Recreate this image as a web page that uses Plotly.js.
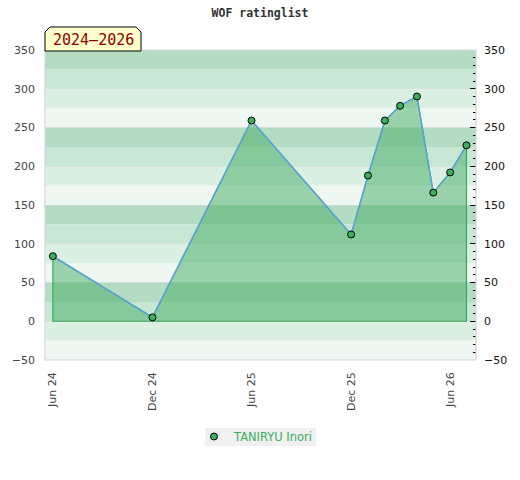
<!DOCTYPE html>
<html>
<head>
<meta charset="utf-8">
<script src="https://cdn.plot.ly/plotly-3.0.1.min.js"></script>
<style>html,body{margin:0;padding:0;background:#fff;}#chart{width:520px;height:480px;}</style>
</head>
<body>
<div id="chart"></div>
<script>
// Data
var dates = ['2024-06-01','2024-12-01','2025-06-01','2025-12-01','2026-01-01','2026-02-01','2026-03-01','2026-04-01','2026-05-01','2026-06-01','2026-07-01'];
var ratings = [84, 5, 259, 112, 188, 259, 278, 290, 166, 192, 227];
var seriesName = 'TANIRYU Inori';
var chartTitle = 'WOF ratinglist';
var periodLabel = '2024\u20132026';
var tickVals = ['2024-06-01','2024-12-01','2025-06-01','2025-12-01','2026-06-01'];
var tickText = ['Jun 24','Dec 24','Jun 25','Dec 25','Jun 26'];

var W = 520, H = 480;
var M = {l: 45, r: 44, t: 50, b: 120};
var yRange = [-50, 350];
var xRange = ['2024-05-17 12:00', '2026-07-18 12:00'];

function px(x) { return (x - M.l) / (W - M.l - M.r); }
function py(y) { return (H - M.b - y) / (H - M.t - M.b); }

// background bands every 25 units, 4-step cycle
var bandColors = ['#b3dcc3', '#c7e6d3', '#dcefe3', '#eff7f2'];
var shapes = [];
var idx = 0;
for (var v = yRange[1]; v > yRange[0]; v -= 25) {
  shapes.push({type: 'rect', xref: 'paper', yref: 'y', x0: 0, x1: 1, y0: v - 25, y1: v,
    fillcolor: bandColors[idx % 4], line: {width: 0}, layer: 'below'});
  idx++;
}
// plot border
shapes.push({type: 'rect', xref: 'paper', yref: 'paper', x0: 0, x1: 1, y0: 0, y1: 1,
  line: {color: '#d6d6d6', width: 1.2}, layer: 'above'});
// period label box with clipped top corners
var bx0 = 45, bx1 = 141, by0 = 27, by1 = 51, c = 5;
var path = 'M ' + px(bx0) + ' ' + py(by1) +
  ' L ' + px(bx0) + ' ' + py(by0 + c) +
  ' L ' + px(bx0 + c) + ' ' + py(by0) +
  ' L ' + px(bx1 - c) + ' ' + py(by0) +
  ' L ' + px(bx1) + ' ' + py(by0 + c) +
  ' L ' + px(bx1) + ' ' + py(by1) + ' Z';
shapes.push({type: 'path', xref: 'paper', yref: 'paper', path: path,
  fillcolor: '#ffffcc', line: {color: '#000000', width: 1}, layer: 'above'});
// legend background
shapes.push({type: 'rect', xref: 'paper', yref: 'paper', x0: px(205), x1: px(316), y0: py(446), y1: py(428),
  fillcolor: '#f0f0f0', line: {width: 0}, layer: 'above'});

// polygon for area fill (data + baseline)
var polyX = dates.concat([dates[dates.length - 1], dates[0], dates[0]]);
var polyY = ratings.concat([0, 0, ratings[0]]);

var traces = [
  {x: polyX, y: polyY, type: 'scatter', mode: 'lines', fill: 'toself',
   fillcolor: 'rgba(72,175,105,0.52)', line: {color: '#3aa85a', width: 1.2},
   hoverinfo: 'skip', showlegend: false},
  {x: dates, y: ratings, type: 'scatter', mode: 'lines',
   line: {color: '#5aa2dc', width: 1.4}, showlegend: false},
  {x: dates, y: ratings, type: 'scatter', mode: 'markers', name: seriesName,
   marker: {color: '#3cae5c', size: 7, line: {color: '#000000', width: 1}}},
  {x: dates, y: ratings, type: 'scatter', mode: 'markers', yaxis: 'y2',
   marker: {opacity: 0}, showlegend: false, hoverinfo: 'skip'}
];

var tickFont = {family: 'DejaVu Sans', size: 11, color: '#444'};

var layout = {
  width: W, height: H,
  margin: M,
  paper_bgcolor: '#ffffff',
  plot_bgcolor: '#ffffff',
  title: {text: chartTitle, x: 0.5, xanchor: 'center', y: 1 - 13 / H, yanchor: 'middle',
    font: {family: 'DejaVu Sans Mono', size: 11.5, color: '#333', weight: 'bold'}},
  xaxis: {type: 'date', range: xRange, tickvals: tickVals, ticktext: tickText,
    tickangle: -90, tickfont: tickFont, showgrid: false, zeroline: false,
    showline: false, ticks: '', fixedrange: true, ticklabelstandoff: 9},
  yaxis: {range: yRange, dtick: 50, tick0: 0, tickfont: tickFont,
    showgrid: true, gridcolor: 'rgba(215,215,215,0.6)', gridwidth: 1,
    zeroline: false, showline: false, ticks: '', ticklen: 0, ticklabelstandoff: 9},
  yaxis2: {range: yRange, dtick: 50, tick0: 0, overlaying: 'y', side: 'right',
    tickfont: {family: 'DejaVu Sans', size: 11, color: '#111'},
    showgrid: false, zeroline: false, showline: false,
    ticks: 'inside', ticklen: 6, tickcolor: '#000', tickwidth: 1, ticklabelstandoff: 7,
    minor: {dtick: 10, tick0: 0, ticks: 'inside', ticklen: 3, tickcolor: '#000', tickwidth: 1, showgrid: false}},
  showlegend: true,
  legend: {orientation: 'h', x: px(194), xanchor: 'left', y: py(422), yanchor: 'top',
    bgcolor: 'rgba(0,0,0,0)', font: {family: 'DejaVu Sans', size: 11.5, color: '#3cae5c'},
    itemwidth: 30},
  shapes: shapes,
  annotations: [
    {xref: 'paper', yref: 'paper', x: px((bx0 + bx1) / 2), y: py(40), xanchor: 'center', yanchor: 'middle',
     text: periodLabel, showarrow: false,
     font: {family: 'DejaVu Sans Mono', size: 15, color: '#8b0000'}}
  ]
};

Plotly.newPlot('chart', traces, layout, {displayModeBar: false, staticPlot: true});
</script>
</body>
</html>
